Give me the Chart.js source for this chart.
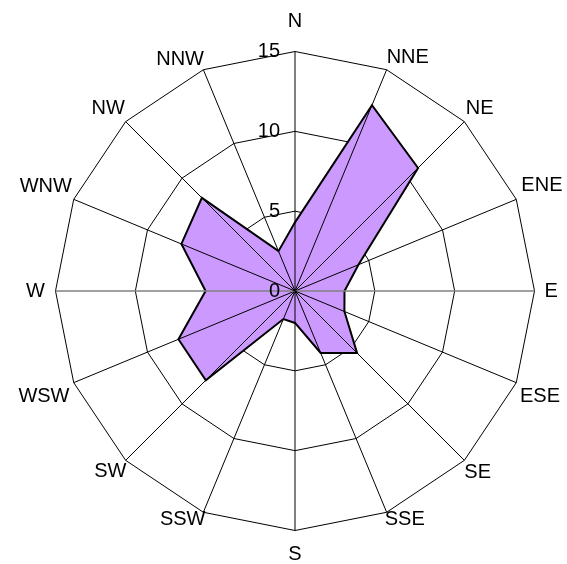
<!DOCTYPE html>
<html>
<head>
<meta charset="utf-8">
<script src="https://cdn.jsdelivr.net/npm/chart.js@4.4.1/dist/chart.umd.min.js"></script>
<style>
html,body{margin:0;padding:0;background:#fff;overflow:hidden;}
#wrap{width:567px;height:564px;position:relative;overflow:hidden;}
#c{position:absolute;left:0;top:0;}
</style>
</head>
<body>
<div id="wrap"><canvas id="c" width="571" height="571"></canvas></div>
<script>
const directions = ["N","NNE","NE","ENE","E","ESE","SE","SSE","S","SSW","SW","WSW","W","WNW","NW","NNW"];
const frequency = [4.3, 12.6, 10.9, 4.3, 3.1, 3.35, 5.5, 4.2, 2.0, 1.9, 7.9, 7.9, 5.6, 7.7, 8.25, 2.7];
const tickValues = [0, 5, 10, 15];

const FONT = "'Liberation Sans', Arial, sans-serif";
// per-direction label gap (style only)
const labelGap = [18.5, 0, 2, 5.5, 10, 4, 0, -5, 12, -5.6, -1, 4.6, 10.6, 2, 1, -1.7];

const overlayPlugin = {
  id: 'overlay',
  afterDatasetsDraw(chart) {
    const s = chart.scales.r;
    const ctx = chart.ctx;
    ctx.save();
    // spokes drawn above the filled area
    for (let i = 0; i < directions.length; i++) {
      const p = s.getPointPosition(i, s.drawingArea);
      const horiz = (i === 4 || i === 12);
      ctx.beginPath();
      ctx.strokeStyle = horiz ? '#808080' : '#000';
      ctx.lineWidth = horiz ? 1.6 : 1;
      ctx.moveTo(s.xCenter, s.yCenter);
      ctx.lineTo(p.x, p.y);
      ctx.stroke();
    }
    // tick labels, right-aligned left of the north spoke
    ctx.font = "20px " + FONT;
    ctx.fillStyle = "#000";
    ctx.textAlign = "right";
    ctx.textBaseline = "middle";
    tickValues.forEach(v => {
      const d = s.getDistanceFromCenterForValue(v);
      ctx.fillText(String(v), s.xCenter - 15, s.yCenter - d);
    });
    ctx.restore();
  }
};

new Chart(document.getElementById('c'), {
  type: 'radar',
  data: {
    labels: directions,
    datasets: [{
      data: frequency,
      backgroundColor: 'rgb(204,153,255)',
      borderColor: '#000',
      borderWidth: 2,
      pointRadius: 0,
      fill: true,
      tension: 0
    }]
  },
  options: {
    responsive: false,
    animation: false,
    layout: { padding: { top: 6, bottom: 0, left: 11, right: 0 } },
    plugins: { legend: { display: false }, tooltip: { enabled: false } },
    scales: {
      r: {
        min: 0, max: 15,
        ticks: { stepSize: 5, display: false },
        grid: { circular: false, color: '#000', lineWidth: 1 },
        angleLines: { display: false },
        pointLabels: {
          font: { size: 20, family: FONT },
          color: '#000',
          padding: (ctx) => labelGap[ctx.index]
        }
      }
    }
  },
  plugins: [overlayPlugin]
});
</script>
</body>
</html>
